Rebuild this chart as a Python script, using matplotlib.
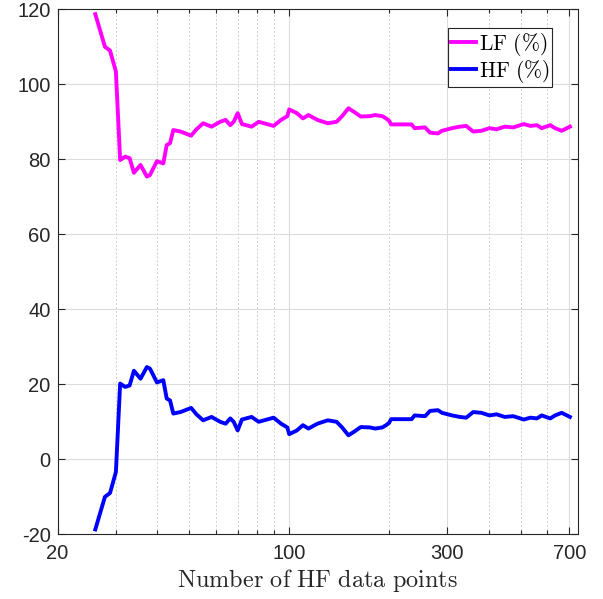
import matplotlib

matplotlib.use("Agg")
import matplotlib.pyplot as plt
from matplotlib.ticker import FixedLocator, NullFormatter

# number of HF data points
n_points = [
    26.0, 27.8, 28.8, 30.0, 30.9, 32.0, 33.0, 34.0, 35.6, 37.2,
    38.0, 39.9, 41.7, 42.7, 43.7, 44.7, 47.0, 50.6, 52.5, 55.0,
    58.3, 61.9, 64.3, 66.4, 68.0, 69.9, 72.0, 77.0, 80.9, 85.6,
    89.7, 94.5, 98.7, 100.0, 105.5, 110.0, 114.3, 121.7, 130.7, 139.0,
    144.4, 150.9, 156.6, 164.4, 175.0, 181.7, 191.0, 196.0, 200.0, 203.0,
    214.0, 234.0, 239.0, 257.0, 266.0, 281.0, 289.0, 310.0, 327.0, 342.0,
    359.0, 380.0, 402.0, 422.0, 447.0, 474.0, 490.0, 510.0, 534.0, 559.0,
    578.0, 613.0, 634.0, 664.0, 703.0,
]

lf_pct = [
    118.7, 110.0, 109.0, 103.4, 79.8, 80.7, 80.3, 76.4, 78.5, 75.4,
    75.8, 79.5, 78.9, 83.8, 84.3, 87.8, 87.4, 86.3, 88.0, 89.6,
    88.7, 90.0, 90.5, 89.1, 90.0, 92.3, 89.4, 88.7, 90.0, 89.4,
    88.9, 90.5, 91.5, 93.3, 92.3, 90.9, 91.8, 90.5, 89.6, 90.0,
    91.5, 93.6, 92.7, 91.4, 91.5, 91.8, 91.5, 90.9, 90.3, 89.3,
    89.3, 89.3, 88.3, 88.5, 87.1, 86.9, 87.6, 88.3, 88.7, 88.9,
    87.4, 87.6, 88.3, 88.0, 88.7, 88.5, 88.9, 89.4, 88.9, 89.1,
    88.3, 89.1, 88.3, 87.6, 88.7,
]

hf_pct = [
    -18.7, -10.0, -9.0, -3.4, 20.2, 19.3, 19.7, 23.6, 21.5, 24.6,
    24.2, 20.5, 21.1, 16.2, 15.7, 12.2, 12.6, 13.7, 12.0, 10.4,
    11.3, 10.0, 9.5, 10.9, 10.0, 7.7, 10.6, 11.3, 10.0, 10.6,
    11.1, 9.5, 8.5, 6.7, 7.7, 9.1, 8.2, 9.5, 10.4, 10.0,
    8.5, 6.4, 7.3, 8.6, 8.5, 8.2, 8.5, 9.1, 9.7, 10.7,
    10.7, 10.7, 11.7, 11.5, 12.9, 13.1, 12.4, 11.7, 11.3, 11.1,
    12.6, 12.4, 11.7, 12.0, 11.3, 11.5, 11.1, 10.6, 11.1, 10.9,
    11.7, 10.9, 11.7, 12.4, 11.3,
]

x_ticks = [20, 100, 300, 700]
x_minor = [30, 40, 50, 60, 70, 80, 90, 200, 400, 500, 600, 700]
y_ticks = [-20, 0, 20, 40, 60, 80, 100, 120]

plt.rcParams["font.family"] = ["Liberation Sans", "DejaVu Sans"]
plt.rcParams["mathtext.fontset"] = "cm"
plt.rcParams["axes.unicode_minus"] = False

DARK = "#262626"

fig = plt.figure(figsize=(6.03, 5.99), dpi=100)
ax = fig.add_axes([0.0954, 0.108, 0.8636, 0.8765])

ax.plot(n_points, lf_pct, color="#ff00ff", lw=2.8, label=r"$\mathrm{LF\ (\%)}$")
ax.plot(n_points, hf_pct, color="#0000ff", lw=2.8, label=r"$\mathrm{HF\ (\%)}$")

ax.set_xscale("log")
ax.set_xlim(20, 745)
ax.set_ylim(-20, 120)
ax.xaxis.set_major_locator(FixedLocator(x_ticks))
ax.xaxis.set_minor_locator(FixedLocator(x_minor))
ax.xaxis.set_minor_formatter(NullFormatter())
ax.set_xticklabels([str(t) for t in x_ticks])
ax.set_yticks(y_ticks)
ax.set_yticklabels([str(t) for t in y_ticks])

ax.tick_params(which="both", direction="in", top=True, right=True,
               colors=DARK, labelcolor=DARK, width=0.8)
ax.tick_params(which="major", length=5, labelsize=14.5)
ax.tick_params(axis="x", which="major", pad=7)
ax.tick_params(axis="y", which="major", pad=5)
ax.tick_params(which="minor", length=3)
for spine in ax.spines.values():
    spine.set_color(DARK)
    spine.set_linewidth(0.8)

ax.grid(True, which="major", color="#dcdcdc", linewidth=0.8, linestyle="-")
ax.grid(True, which="minor", axis="x", color="#cfcfcf", linewidth=0.7, linestyle=(0, (2, 2)))
ax.set_axisbelow(True)

ax.set_xlabel(r"$\mathrm{Number\ of\ HF\ data\ points}$", fontsize=17.5, color=DARK, labelpad=3)

leg = ax.legend(loc="upper right", bbox_to_anchor=(0.916, 0.9528),
                bbox_transform=fig.transFigure, borderaxespad=0,
                fontsize=15.5, handlelength=1.15, handletextpad=0.15,
                borderpad=0.12, labelspacing=0.0, fancybox=False,
                framealpha=1, edgecolor=DARK)
leg.get_frame().set_linewidth(0.8)

fig.savefig("out.png", dpi=100)
